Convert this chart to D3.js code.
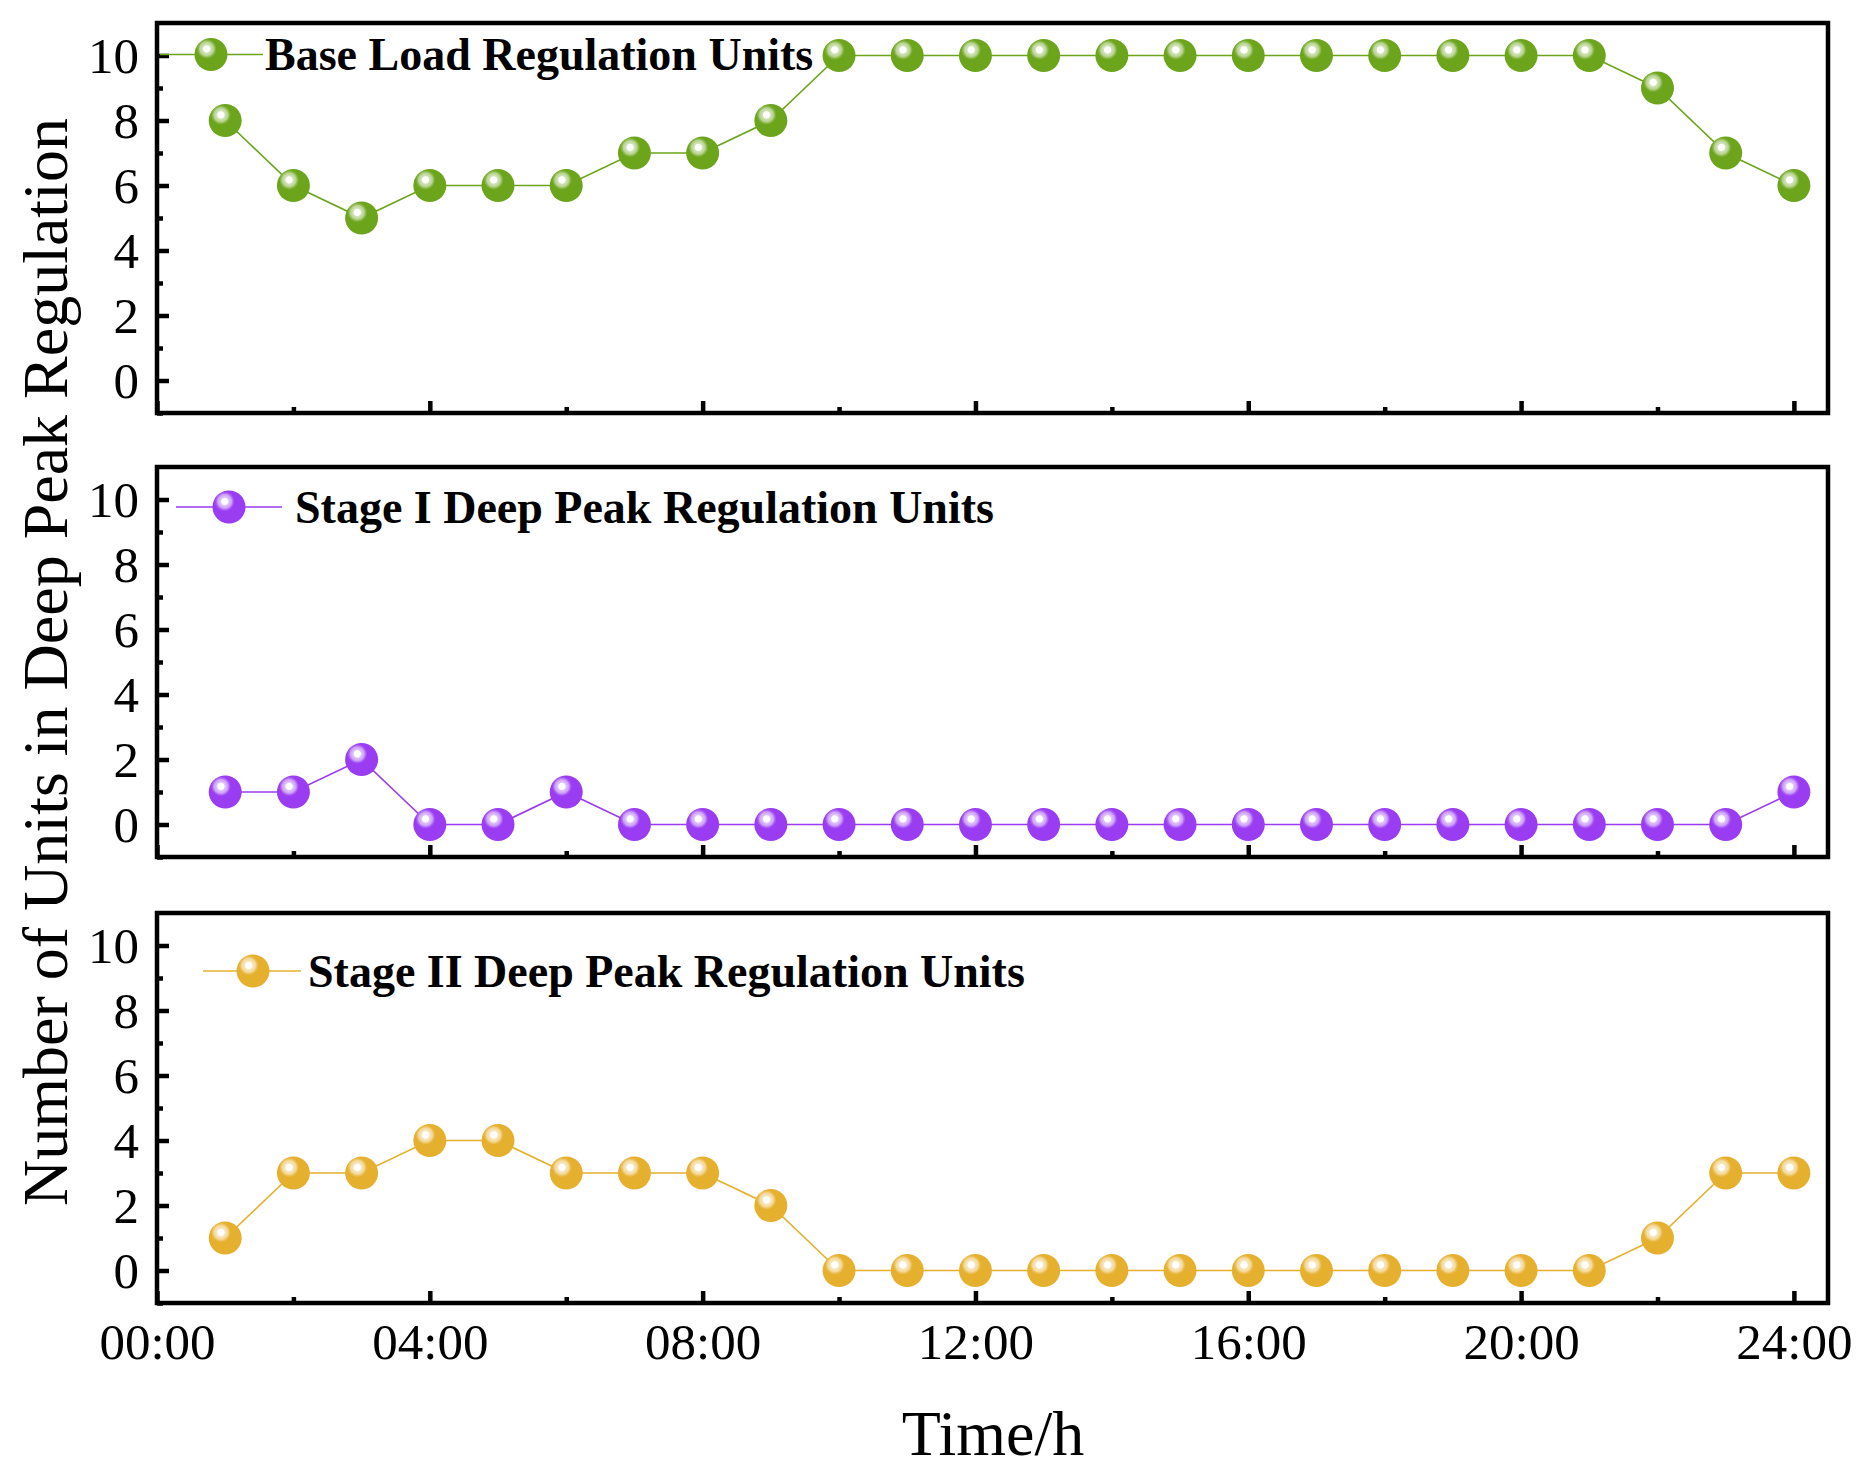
<!DOCTYPE html>
<html><head><meta charset="utf-8">
<script src="https://cdn.jsdelivr.net/npm/d3@7/dist/d3.min.js"></script>
<style>html,body{margin:0;padding:0;background:#fff;} svg{display:block;}</style>
</head><body>
<svg id="chart" width="1871" height="1475"></svg>
<script>
// ---------- data ----------
const hours = [1,2,3,4,5,6,7,8,9,10,11,12,13,14,15,16,17,18,19,20,21,22,23,24];
const baseLoad = [8,6,5,6,6,6,7,7,8,10,10,10,10,10,10,10,10,10,10,10,10,9,7,6];
const stageI   = [1,1,2,0,0,1,0,0,0,0,0,0,0,0,0,0,0,0,0,0,0,0,0,1];
const stageII  = [1,3,3,4,4,3,3,3,2,0,0,0,0,0,0,0,0,0,0,0,0,1,3,3];
const seriesNames = ["Base Load Regulation Units","Stage I Deep Peak Regulation Units","Stage II Deep Peak Regulation Units"];
const xMajorTicks = [0,4,8,12,16,20,24];
const xMinorTicks = [2,6,10,14,18,22];
const xTickLabels = ["00:00","04:00","08:00","12:00","16:00","20:00","24:00"];
const yMajorTicks = [0,2,4,6,8,10];
const yMinorTicks = [-1,1,3,5,7,9];
const xTitle = "Time/h";
const yTitle = "Number of Units in Deep Peak Regulation";

// ---------- layout / style ----------
const seriesValues = [baseLoad, stageI, stageII];
const colors = ["#6ca51c","#9a3cf2","#e6b02f"];
const left = 157, right = 1828;
const panelTops = [23, 467, 913];
const panelH = 390;
const legendPos = [ {x1:160,x2:263,mx:211,dy:31.5,tx:265},
                    {x1:176,x2:282,mx:229,dy:40,tx:295},
                    {x1:203,x2:301,mx:253,dy:58,tx:308} ];
const serif = "'Liberation Serif','Times New Roman',Times,serif";
const frameW = 4.5, R = 16.5;

const svg = d3.select("#chart");
svg.append("rect").attr("width",1871).attr("height",1475).attr("fill","#fff");

const defs = svg.append("defs");
function mix(c, t){ return d3.interpolateRgb(c, "#ffffff")(t); }
colors.forEach((c,i)=>{
  const g = defs.append("radialGradient").attr("id","sph"+i)
    .attr("cx",0.37).attr("cy",0.33).attr("r",0.34).attr("fx",0.37).attr("fy",0.33);
  g.append("stop").attr("offset","0%").attr("stop-color","#ffffff");
  g.append("stop").attr("offset","28%").attr("stop-color","#ffffff");
  g.append("stop").attr("offset","36%").attr("stop-color",mix(c,0.7));
  g.append("stop").attr("offset","62%").attr("stop-color",mix(c,0.5));
  g.append("stop").attr("offset","72%").attr("stop-color",mix(c,0.25));
  g.append("stop").attr("offset","88%").attr("stop-color",c);
  g.append("stop").attr("offset","100%").attr("stop-color",c);
});

const x = d3.scaleLinear().domain([0,24.5]).range([left,right]);

panelTops.forEach((top,i)=>{
  const bottom = top + panelH;
  const y = d3.scaleLinear().domain([-1,11]).range([bottom, top]);
  const g = svg.append("g");
  const vals = seriesValues[i];
  const data = hours.map((h,k)=>({h, v: vals[k]}));

  const yAx = g.append("g").attr("transform",`translate(${left},0)`)
    .call(d3.axisLeft(y).tickValues(yMajorTicks).tickSize(-12).tickPadding(18).tickFormat(d3.format("d")));
  yAx.attr("font-family",serif);
  yAx.select(".domain").remove();
  yAx.selectAll("line").attr("stroke-width",frameW);
  yAx.selectAll("text").attr("font-family",serif).attr("font-size",51).attr("fill","#000").attr("dy","0.34em");
  const yMin = g.append("g").attr("transform",`translate(${left},0)`)
    .call(d3.axisLeft(y).tickValues(yMinorTicks).tickSize(-6).tickFormat(""));
  yMin.select(".domain").remove();
  yMin.selectAll("line").attr("stroke-width",frameW);

  const xAx = g.append("g").attr("transform",`translate(0,${bottom})`)
    .call(d3.axisBottom(x).tickValues(xMajorTicks).tickSize(-12)
      .tickFormat((d,k)=> i===2 ? xTickLabels[k] : ""));
  xAx.attr("font-family",serif);
  xAx.select(".domain").remove();
  xAx.selectAll("line").attr("stroke-width",frameW);
  xAx.selectAll("text").attr("font-family",serif).attr("font-size",51).attr("fill","#000")
     .attr("y",56).attr("dy",null);
  const xMin = g.append("g").attr("transform",`translate(0,${bottom})`)
    .call(d3.axisBottom(x).tickValues(xMinorTicks).tickSize(-6).tickFormat(""));
  xMin.select(".domain").remove();
  xMin.selectAll("line").attr("stroke-width",frameW);

  g.append("path").datum(data)
    .attr("d", d3.line().x(d=>x(d.h)).y(d=>y(d.v)))
    .attr("fill","none").attr("stroke",colors[i]).attr("stroke-width",1.6);
  g.selectAll("circle.pt").data(data).join("circle").attr("class","pt")
    .attr("cx",d=>x(d.h)).attr("cy",d=>y(d.v)).attr("r",R).attr("fill",`url(#sph${i})`);

  const lp = legendPos[i], ly = top + lp.dy;
  g.append("line").attr("x1",lp.x1).attr("x2",lp.x2).attr("y1",ly).attr("y2",ly)
    .attr("stroke",colors[i]).attr("stroke-width",1.6);
  g.append("circle").attr("cx",lp.mx).attr("cy",ly).attr("r",R).attr("fill",`url(#sph${i})`);
  g.append("text").attr("x",lp.tx).attr("y",ly).attr("dy","0.34em")
    .attr("font-family",serif).attr("font-weight","bold").attr("font-size",46)
    .attr("fill","#000").text(seriesNames[i]);

  g.append("rect").attr("x",left).attr("y",top).attr("width",right-left).attr("height",panelH)
    .attr("fill","none").attr("stroke","#000").attr("stroke-width",frameW);
});

svg.append("text").attr("x",993).attr("y",1455).attr("text-anchor","middle")
  .attr("font-family",serif).attr("font-size",64).attr("fill","#000").text(xTitle);
svg.append("text").attr("transform","translate(67,662) rotate(-90)").attr("text-anchor","middle")
  .attr("font-family",serif).attr("font-size",64).attr("fill","#000").text(yTitle);
</script>
</body></html>
